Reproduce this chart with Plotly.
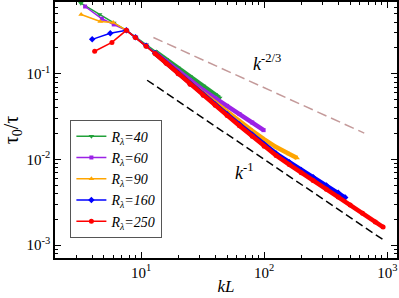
import plotly.graph_objects as go

# ---- data ----
kL_40 = [3.24, 4.6, 6.0, 7.6, 9, 11, 13, 16, 20, 25, 32, 40, 43.5]
tau_40 = [0.666, 0.492, 0.391, 0.321, 0.2686, 0.2185, 0.1832, 0.1478, 0.1171,
          0.0930, 0.0719, 0.0571, 0.0523]

kL_60 = [3.51, 4.81, 6.0, 7.6, 9, 11, 13, 16, 20, 25, 32, 40, 50, 63, 80, 99]
tau_60 = [0.609, 0.438, 0.376, 0.321, 0.2657, 0.2128, 0.1759, 0.1394, 0.1084,
          0.0842, 0.0643, 0.0520, 0.0422, 0.0339, 0.0270, 0.0220]

kL_90 = [3.26, 4.66, 5.94, 7.6, 9, 11, 13, 16, 20, 25, 32, 40, 50, 63, 80, 100,
         125, 160, 185]
tau_90 = [0.492, 0.407, 0.397, 0.321, 0.264, 0.210, 0.172, 0.1331, 0.1027,
          0.0784, 0.0590, 0.0460, 0.0359, 0.0280, 0.02162, 0.01722, 0.01397,
          0.01156, 0.01041]

kL_160 = [4.01, 5.62, 7.6, 9, 11, 13, 16, 20, 25, 32, 40, 50, 63, 80, 100, 125,
          160, 200, 250, 320, 400, 455]
tau_160 = [0.252, 0.296, 0.321, 0.2657, 0.2117, 0.1731, 0.1338, 0.1013, 0.0767,
           0.0570, 0.0437, 0.0336, 0.02566, 0.01943, 0.01494, 0.01174, 0.00930,
           0.00755, 0.00619, 0.00497, 0.00408, 0.00360]

kL_250 = [4.2, 5.8, 7.6, 9, 11, 13, 16, 20, 25, 32, 40, 50, 63, 80, 100, 125,
          160, 200, 250, 320, 400, 500, 630, 800, 925]
tau_250 = [0.183, 0.232, 0.321, 0.264, 0.210, 0.172, 0.1325, 0.100, 0.0755,
           0.0560, 0.0428, 0.0327, 0.0248, 0.0187, 0.0143, 0.01114, 0.00873,
           0.00700, 0.00569, 0.00450, 0.00365, 0.00294, 0.00236, 0.00187, 0.00163]

# guide power laws
k23_kL = [12.6, 650]
k23_tau = [0.265, 0.0203]
k1_kL = [11.2, 942]
k1_tau = [0.084, 0.00114]

labels = ["40", "60", "90", "160", "250"]
x_ticks = [10, 100, 1000]
x_ticktext = ["10<sup>1</sup>", "10<sup>2</sup>", "10<sup>3</sup>"]
y_ticks = [0.001, 0.01, 0.1]
y_ticktext = ["10<sup>-3</sup>", "10<sup>-2</sup>", "10<sup>-1</sup>"]

FONT = "Liberation Serif"
series = [
    (kL_40, tau_40, "#22a13a", "triangle-down", 5),
    (kL_60, tau_60, "#9b22e6", "square", 4),
    (kL_90, tau_90, "#ffa500", "triangle-up", 5),
    (kL_160, tau_160, "#0000ff", "diamond", 5),
    (kL_250, tau_250, "#ff0000", "circle", 5),
]

fig = go.Figure()

fig.add_trace(go.Scatter(x=k23_kL, y=k23_tau, mode="lines", showlegend=False,
                         line=dict(color="#c49a9a", width=1.5, dash="10px,5px")))
fig.add_trace(go.Scatter(x=k1_kL, y=k1_tau, mode="lines", showlegend=False,
                         line=dict(color="black", width=1.5, dash="8px,4px")))

for (kx, ty, col, sym, ms), lab in zip(series, labels):
    fig.add_trace(go.Scatter(
        x=kx, y=ty, mode="lines+markers",
        name="<i>R</i><sub><i>λ</i></sub><i>=" + lab + "</i>",
        line=dict(color=col, width=1.5),
        marker=dict(color=col, symbol=sym, size=ms, line=dict(width=0)),
    ))
    bx = [k for k in kx if k >= 12]
    by = [t for k, t in zip(kx, ty) if k >= 12]
    fig.add_trace(go.Scatter(x=bx, y=by, mode="lines", showlegend=False,
                             hoverinfo="skip", line=dict(color=col, width=4.5)))

fig.add_annotation(x=2.022, y=-0.866, xref="x", yref="y", showarrow=False,
                   text="<i>k</i><sup>-2/3</sup>",
                   font=dict(family=FONT, size=18, color="black"))
fig.add_annotation(x=1.843, y=-2.145, xref="x", yref="y", showarrow=False,
                   text="<i>k</i><sup>-1</sup>",
                   font=dict(family=FONT, size=18, color="black"))

axis_common = dict(
    showline=True, linecolor="black", linewidth=1.5, mirror="ticks",
    ticks="inside", ticklen=6, tickwidth=1, tickcolor="black",
    showgrid=False, zeroline=False, automargin=False,
    tickfont=dict(family=FONT, size=15, color="black"),
    minor=dict(ticks="inside", ticklen=3, tickwidth=1, tickcolor="black",
               dtick="D1", showgrid=False),
)

fig.update_xaxes(type="log", range=[0.301, 3.079], tickmode="array",
                 tickvals=x_ticks, ticktext=x_ticktext, ticklabelstandoff=0,
                 title=dict(text="<i>kL</i>", font=dict(family=FONT, size=17, color="black"),
                            standoff=0),
                 **axis_common)
fig.update_yaxes(type="log", range=[-3.149, -0.163], tickmode="array",
                 tickvals=y_ticks, ticktext=y_ticktext,
                 title=dict(text="τ<sub>0</sub>/τ", font=dict(family=FONT, size=20, color="black"),
                            standoff=4),
                 **axis_common)

fig.update_layout(
    width=399, height=298,
    margin=dict(l=55, r=2, t=2, b=40, autoexpand=False),
    paper_bgcolor="white", plot_bgcolor="white",
    showlegend=True,
    legend=dict(x=0.045, y=0.54, xanchor="left", yanchor="top",
                bgcolor="white", bordercolor="#555555", borderwidth=1,
                font=dict(family=FONT, size=14, color="black"),
                itemwidth=30, tracegroupgap=0),
)

fig.write_html("out.html", config={"displayModeBar": False},
               post_script="document.body.style.margin='0px';document.body.style.padding='0px';")
